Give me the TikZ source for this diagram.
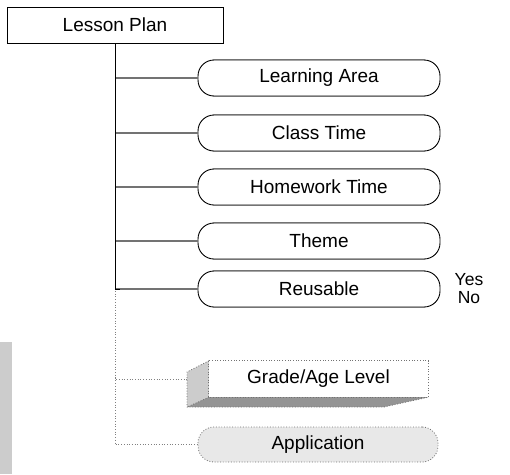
\documentclass[tikz,border=0pt]{standalone}
\usepackage{fontspec}
\setmainfont{Liberation Sans}
\begin{document}
\begin{tikzpicture}[x=1pt,y=-1pt,
  lbl/.style={font=\fontsize{19}{19}\selectfont},
  pill/.style={lbl, draw=black, line width=0.9pt, rounded corners=16pt, minimum width=242pt, minimum height=36pt, inner sep=0pt},
  conn/.style={draw=black!55, line width=1.3pt},
  dotconn/.style={draw=black!50, line width=0.9pt, dash pattern=on 0.9pt off 1.8pt},
  dotbox/.style={draw=black!55, line width=0.8pt, dash pattern=on 0.9pt off 1.8pt}]
\useasboundingbox (0,0) rectangle (510,474);
\fill[black!20] (0,342) rectangle (12,474);
% Lesson plan
\node[lbl, draw, line width=0.9pt, minimum width=216pt, minimum height=36pt, inner sep=0pt] (lp) at (115,25) {Lesson Plan};
% pills
\node[pill] (la) at (319,78) {Learning Area};
\node[pill] (ct) at (319,133) {Class Time};
\node[pill] (hw) at (319,187) {Homework Time};
\node[pill] (th) at (319,241) {Theme};
\node[pill] (rs) at (319,289) {Reusable};
\foreach \n in {la,ct,hw,th,rs}{
  \draw[black!55, line width=1.5pt] ([xshift=15pt]\n.north west) -- ([xshift=-15pt]\n.north east);
  \draw[black!55, line width=1.5pt] ([xshift=15pt]\n.south west) -- ([xshift=-15pt]\n.south east);
  \draw[conn] (lp.south |- \n.west) -- (\n.west);
}
\draw[line width=0.9pt] (lp.south) -- (lp.south |- rs.west) -- ++(5,0);
\node[inner sep=0pt, font=\fontsize{17.5}{17.5}\selectfont] (yes) at (469,279.5) {Yes};
\node[inner sep=0pt, font=\fontsize{17.5}{17.5}\selectfont] (no) at (469,298) {No};
% Grade/Age level 3D box
\node[lbl, minimum width=219pt, minimum height=36pt, inner sep=0pt] (ga) at (318.5,379) {Grade/Age Level};
\fill[black!20] (ga.north west) -- (187,372) -- (187,407) -- (ga.south west) -- cycle;
\fill[black!42] (ga.south west) -- (187,407) -- (384,407) -- (ga.south east) -- cycle;
\draw[dotbox] (ga.north west) rectangle (ga.south east);
\draw[dotbox] (ga.north west) -- (187,372) -- (187,407) -- (384,407) -- (ga.south east);
\draw[dotbox] (ga.south west) -- (187,407);
\coordinate (gs) at (187,379);
% Application
\node[lbl, dotbox, fill=black!9, rounded corners=16pt, minimum width=240pt, minimum height=35pt, inner sep=0pt] (ap) at (318,444.5) {Application};
% dotted connectors
\draw[dotconn] (lp.south |- rs.west) ++(0,2) -- (lp.south |- gs) -- (gs);
\draw[dotconn] ([yshift=4pt]lp.south |- gs) -- (lp.south |- ap.west) -- (ap.west);
\end{tikzpicture}
\end{document}
